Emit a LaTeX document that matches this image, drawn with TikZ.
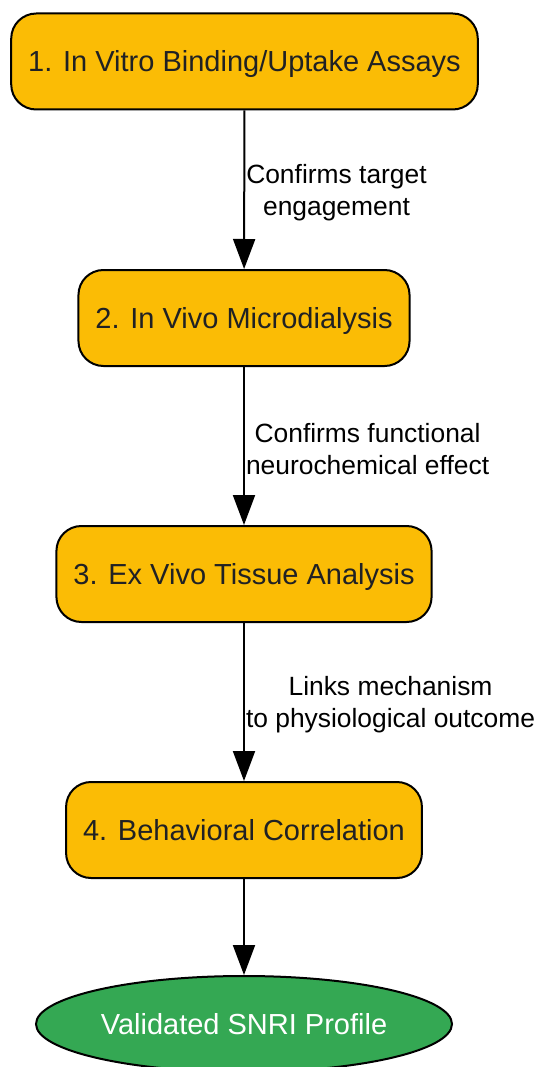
\documentclass[tikz,border=0pt]{standalone}
\usepackage{fontspec}
\setmainfont{Liberation Sans}
\usetikzlibrary{arrows.meta,shapes.geometric}
\definecolor{stepyellow}{HTML}{FBBC05}
\definecolor{resultgreen}{HTML}{34A853}
\definecolor{boxtext}{HTML}{202124}

\begin{document}
\begin{tikzpicture}[x=1pt, y=-1pt,
    stepbox/.style={draw=black, line width=2pt, fill=stepyellow, rounded corners=25pt,
        minimum height=96pt, inner xsep=17pt, text height=23pt, text depth=2pt,
        text=boxtext, font=\fontsize{29}{34}\selectfont},
    result/.style={ellipse, draw=black, line width=2pt, fill=resultgreen,
        minimum width=416pt, minimum height=96pt, text=white, font=\fontsize{29}{34}\selectfont},
    flow/.style={-{Triangle[length=30pt,width=22pt]}, line width=2pt},
    edgelabel/.style={anchor=west, align=center, inner sep=0pt, xshift=1pt, yshift=-3pt,
        font=\fontsize{26.4}{32}\selectfont}]
    \useasboundingbox (0,0) rectangle (534,1067);
    % validation steps
    \node[stepbox] (invitro) at (244.5,61.5) {1. In Vitro Binding/Uptake Assays};
    \node[stepbox] (invivo) at (244,318) {2. In Vivo Microdialysis};
    \node[stepbox] (exvivo) at (244,574) {3. Ex Vivo Tissue Analysis};
    \node[stepbox] (behavior) at (244,830) {4. Behavioral Correlation};
    % final outcome
    \node[result] (profile) at (244,1024) {Validated SNRI Profile};
    % connectors
    \draw[flow] (invitro) -- node[edgelabel] {Confirms target\\engagement} (invivo);
    \draw[flow] (invivo) -- node[edgelabel] {Confirms functional\\neurochemical effect} (exvivo);
    \draw[flow] (exvivo) -- node[edgelabel] {Links mechanism\\to physiological outcome} (behavior);
    \draw[flow] (behavior) -- (profile);
\end{tikzpicture}
\end{document}
